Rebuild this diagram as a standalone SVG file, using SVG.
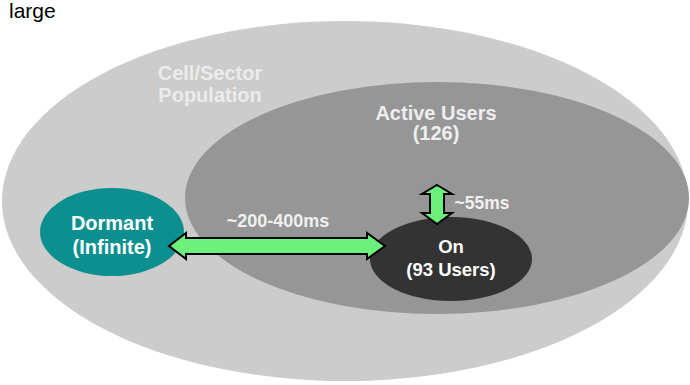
<svg xmlns="http://www.w3.org/2000/svg" width="690" height="385" viewBox="0 0 690 385">
<style>
text{font-family:"Liberation Sans",Arial,sans-serif;font-weight:bold;text-anchor:middle}
.lbl{font-size:20px}
.arrow{fill:#6cf27c;stroke:#000;stroke-width:2;stroke-linejoin:miter}
</style>
<rect width="690" height="385" fill="#fff"/>
<text x="9" y="18" style="font-weight:normal;text-anchor:start;font-size:21px" fill="#000">large</text>
<g id="population">
<ellipse cx="345" cy="201" rx="343" ry="180" fill="#cccccc"/>
<text class="lbl" x="210" y="80" fill="#ebebeb">Cell/Sector</text>
<text class="lbl" x="210" y="102" fill="#ebebeb">Population</text>
</g>
<g id="active">
<ellipse cx="437" cy="198" rx="252" ry="116" fill="#969696"/>
<text class="lbl" x="436" y="120" fill="#eeeeee">Active Users</text>
<text class="lbl" x="436" y="140" fill="#eeeeee">(126)</text>
</g>
<g id="dormant">
<ellipse cx="112" cy="232" rx="72" ry="44" fill="#0b8f8f"/>
<text class="lbl" x="112" y="230" fill="#fff">Dormant</text>
<text class="lbl" x="112" y="254" fill="#fff">(Infinite)</text>
</g>
<g id="on">
<ellipse cx="451" cy="259" rx="81" ry="42" fill="#333333"/>
<text class="lbl" x="451" y="253" style="font-size:18.5px" fill="#fff">On</text>
<text class="lbl" x="451" y="276" style="font-size:18.5px" fill="#fff">(93 Users)</text>
</g>
<g id="connectors">
<polygon class="arrow" points="169,246 186,233 186,238 367,238 367,233 385,246 367,259 367,254 186,254 186,259"/>
<polygon class="arrow" points="437,185 452,194 444,194 444,213 452,213 437,224 422,213 430,213 430,194 422,194"/>
<text x="278" y="227" style="font-size:18px" fill="#f0f0f0">~200-400ms</text>
<text x="482" y="209" style="font-size:17.5px" fill="#f0f0f0">~55ms</text>
</g>
</svg>
